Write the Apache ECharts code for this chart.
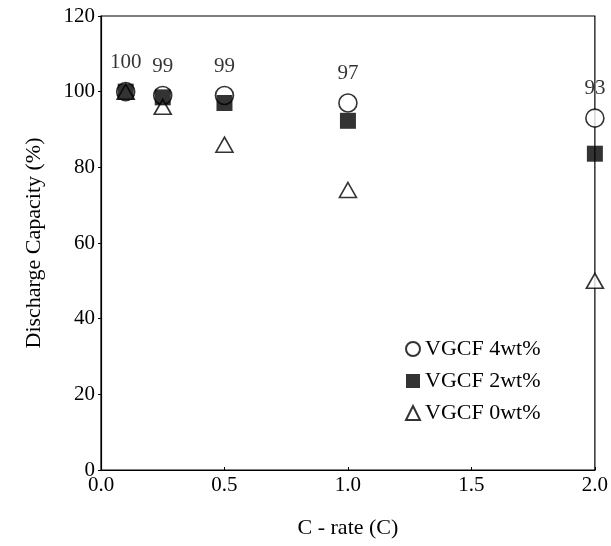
<!DOCTYPE html>
<html>
<head>
<meta charset="utf-8">
<script src="https://cdn.jsdelivr.net/npm/echarts@6/dist/echarts.min.js"></script>
<style>
  html, body { margin: 0; padding: 0; background: #fff; }
  #chart { width: 611px; height: 546px; }
</style>
</head>
<body>
<div id="chart"></div>
<script>
// C-rate (C) at which discharge capacity was measured
const cRates = [0.1, 0.25, 0.5, 1.0, 2.0];
// Discharge capacity retention (%) for each VGCF content
const vgcf4 = [100, 99, 99, 97, 93];
const vgcf2 = [100, 98.5, 97, 92.3, 83.6];
const vgcf0 = [100, 96, 86, 74, 50];
const seriesNames = ['VGCF 4wt%', 'VGCF 2wt%', 'VGCF 0wt%'];
const xTicks = ['0.0', '0.5', '1.0', '1.5', '2.0'];

const font = 'Liberation Serif, Times New Roman, serif';
const pairs = (ys) => cRates.map((x, i) => [x, ys[i]]);

const chart = echarts.init(document.getElementById('chart'), null, { renderer: 'canvas' });
chart.setOption({
  animation: false,
  backgroundColor: '#fff',
  grid: { left: 101, right: 14, top: 16, bottom: 76, show: true, borderColor: '#000', borderWidth: 1.2 },
  xAxis: {
    type: 'value', min: 0, max: 2, interval: 0.5,
    name: 'C - rate (C)', nameLocation: 'middle', nameGap: 47,
    nameTextStyle: { fontFamily: font, fontSize: 22, color: '#000' },
    axisLine: { show: true, lineStyle: { color: '#000', width: 1.2 } },
    axisTick: { show: true, inside: true, length: 3, lineStyle: { color: '#000' } },
    axisLabel: { fontFamily: font, fontSize: 21, color: '#000', margin: 5,
      formatter: (v) => xTicks[Math.round(v / 0.5)] },
    splitLine: { show: false }
  },
  yAxis: {
    type: 'value', min: 0, max: 120, interval: 20,
    name: 'Discharge Capacity (%)', nameLocation: 'middle', nameGap: 56, nameRotate: 90,
    nameTextStyle: { fontFamily: font, fontSize: 22, color: '#000' },
    axisLine: { show: true, lineStyle: { color: '#000', width: 1.2 } },
    axisTick: { show: true, inside: false, length: 3, lineStyle: { color: '#000' } },
    axisLabel: { fontFamily: font, fontSize: 21, color: '#000', margin: 6 },
    splitLine: { show: false }
  },
  legend: {
    orient: 'vertical', left: 400, top: 333, itemGap: 10,
    itemWidth: 14, itemHeight: 14,
    textStyle: { fontFamily: font, fontSize: 22, color: '#000' },
    data: seriesNames
  },
  series: [
    {
      name: seriesNames[0], type: 'scatter', data: pairs(vgcf4), z: 2,
      symbol: 'circle', symbolSize: 18,
      itemStyle: { color: '#fff', borderColor: '#000', borderWidth: 1.6 },
      label: { show: true, position: 'top', distance: 9, fontFamily: font, fontSize: 21, color: '#000',
        formatter: (p) => String(p.value[1]) }
    },
    {
      name: seriesNames[2], type: 'scatter', data: pairs(vgcf0), z: 3,
      symbol: 'triangle', symbolSize: [17, 15],
      itemStyle: { color: '#fff', borderColor: '#000', borderWidth: 1.6 }
    },
    {
      name: seriesNames[1], type: 'scatter', data: pairs(vgcf2), z: 4,
      symbol: 'rect', symbolSize: 16,
      itemStyle: { color: '#000', borderColor: '#000', borderWidth: 0 }
    }
  ]
});
</script>
</body>
</html>
